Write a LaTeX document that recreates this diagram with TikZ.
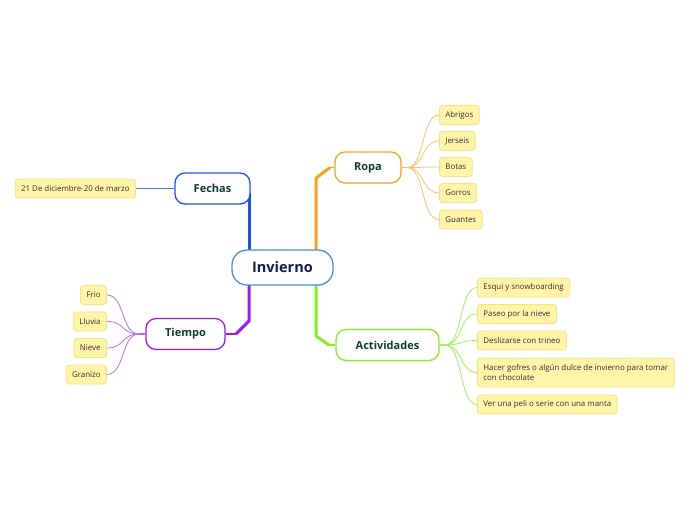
\documentclass[tikz,border=0pt]{standalone}
\usepackage{fontspec}
\setmainfont{Open Sans}
\usetikzlibrary{backgrounds,calc}
\definecolor{cblue}{HTML}{1E50F5}
\definecolor{corange}{HTML}{F7A21B}
\definecolor{cpurple}{HTML}{9B19F5}
\definecolor{cgreen}{HTML}{80F01E}
\definecolor{ccenter}{HTML}{4A90D0}
\definecolor{ctext}{HTML}{0E3D33}
\definecolor{cnavy}{HTML}{10204A}
\definecolor{leaffill}{HTML}{FFF4A8}
\definecolor{leafdraw}{HTML}{F8E27C}
\definecolor{leaftext}{HTML}{333333}
\begin{document}
\begin{tikzpicture}[x=1pt,y=-1pt,
  mainbox/.style={draw, fill=white, line width=1.3pt, rounded corners=10pt,
    minimum height=31pt, font=\fontsize{11}{13}\selectfont\bfseries, text=ctext, inner sep=0pt},
  leaf/.style={draw=leafdraw, fill=leaffill, line width=0.8pt, rounded corners=3pt,
    minimum height=19pt, inner xsep=6pt, inner ysep=2pt, font=\fontsize{7.9}{10}\selectfont,
    text=leaftext, align=left},
  trunk/.style={line width=3pt, line join=round},
  twig/.style={line width=0.8pt},
]
\useasboundingbox (0,0) rectangle (696,520);

% central and main nodes
\node[draw=ccenter, fill=white, line width=1.3pt, rounded corners=15pt, minimum width=101pt,
  minimum height=35pt, font=\fontsize{14.5}{16}\selectfont\bfseries, text=cnavy, inner sep=0pt]
  (inv) at (282.5,267.5) {Invierno};
\node[mainbox, draw=cblue, minimum width=75pt] (fechas) at (212.5,188.5) {Fechas};
\node[mainbox, draw=corange, minimum width=66pt] (ropa) at (368,167.5) {Ropa};
\node[mainbox, draw=cpurple, minimum width=79pt] (tiempo) at (185.5,334) {Tiempo};
\node[mainbox, draw=cgreen, minimum width=103pt] (act) at (387.5,345) {Actividades};

% leaves
\node[leaf, anchor=east] (l21) at (136,188.5) {21 De diciembre-20 de marzo};

\node[leaf, anchor=west] (r1) at (439,115) {Abrigos};
\node[leaf, anchor=west] (r2) at (439,141) {Jerseis};
\node[leaf, anchor=west] (r3) at (439,167) {Botas};
\node[leaf, anchor=west] (r4) at (439,193) {Gorros};
\node[leaf, anchor=west] (r5) at (439,219.5) {Guantes};

\node[leaf, anchor=east] (t1) at (107,295) {Frio};
\node[leaf, anchor=east] (t2) at (107,321.5) {Lluvia};
\node[leaf, anchor=east] (t3) at (107,348) {Nieve};
\node[leaf, anchor=east] (t4) at (107,374.5) {Granizo};

\node[leaf, anchor=west] (a1) at (477,287.5) {Esqui y snowboarding};
\node[leaf, anchor=west] (a2) at (477,314) {Paseo por la nieve};
\node[leaf, anchor=west] (a3) at (477,340.5) {Deslizarse con trineo};
\node[leaf, anchor=west, minimum height=29pt] (a4) at (477,372.5) {Hacer gofres o algún dulce de invierno para tomar\\con chocolate};
\node[leaf, anchor=west] (a5) at (477,404.5) {Ver una peli o serie con una manta};

% bend coordinates
\coordinate (fb) at (249,193);
\coordinate (fi) at (249,251);
\coordinate (ri) at (316,251);
\coordinate (rb1) at (316,178);
\coordinate (rb2) at (330,167.5);
\coordinate (ti) at (249,284);
\coordinate (tb1) at (249,321);
\coordinate (tb2) at (236,334);
\coordinate (ai) at (316,284);
\coordinate (ab1) at (316,336);
\coordinate (ab2) at (329,345);
\coordinate (rh) at (407,167.5);
\coordinate (th) at (139,334);
\coordinate (ah) at (445,345);

\begin{scope}[on background layer]
\draw[trunk, cblue] (fi) -- (fb);
\draw[trunk, corange] (ri) -- (rb1) -- (rb2);
\draw[line width=1.5pt, corange] (rb2) -- (ropa.west);
\draw[trunk, cpurple] (ti) -- (tb1) -- (tb2);
\draw[line width=1.5pt, cpurple] (tb2) -- (tiempo.east);
\draw[trunk, cgreen] (ai) -- (ab1) -- (ab2);
\draw[line width=1.5pt, cgreen] (ab2) -- (act.west);

\draw[twig, cblue!80] (l21.east) -- (fechas.west);

\draw[line width=1.5pt, corange!70] (ropa.east) -- (rh);
\foreach \n in {r1,r2,r3,r4,r5}
  \draw[twig, corange!65] (rh) .. controls +(18,0) and ($(\n.west)+(-18,0)$) .. (\n.west);

\draw[line width=1.5pt, cpurple!70] (tiempo.west) -- (th);
\foreach \n in {t1,t2,t3,t4}
  \draw[twig, cpurple!65] (th) .. controls +(-18,0) and ($(\n.east)+(18,0)$) .. (\n.east);

\draw[line width=1.5pt, cgreen!70] (act.east) -- (ah);
\foreach \n in {a1,a2,a3,a4,a5}
  \draw[twig, cgreen!75] (ah) .. controls +(18,0) and ($(\n.west)+(-18,0)$) .. (\n.west);
\end{scope}
\end{tikzpicture}
\end{document}
